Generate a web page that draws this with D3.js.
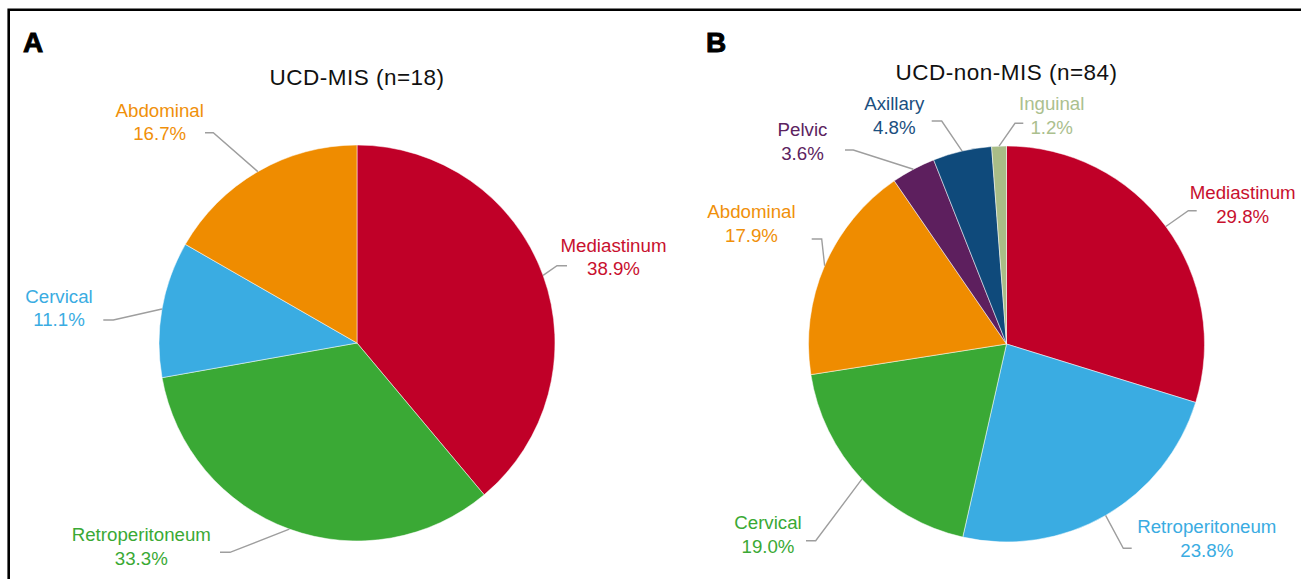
<!DOCTYPE html>
<html>
<head>
<meta charset="utf-8">
<script src="https://cdn.jsdelivr.net/npm/d3@7"></script>
<style>
  html, body { margin: 0; padding: 0; background: #fff; }
  svg { display: block; }
  text { font-family: "Liberation Sans", Arial, Helvetica, sans-serif; }
</style>
</head>
<body>
<svg id="chart" width="1301" height="579"></svg>
<script>
// ---- data ----
const categoriesA = ["Mediastinum", "Retroperitoneum", "Cervical", "Abdominal"];
const valuesA = [38.9, 33.3, 11.1, 16.7];
const titleA = "UCD-MIS (n=18)";

const categoriesB = ["Mediastinum", "Retroperitoneum", "Cervical", "Abdominal", "Pelvic", "Axillary", "Inguinal"];
const valuesB = [29.8, 23.8, 19.0, 17.9, 3.6, 4.8, 1.2];
const titleB = "UCD-non-MIS (n=84)";

// ---- styles ----
const sliceColor = {
  Mediastinum: "#C00028", Retroperitoneum: "#3AACE2", Cervical: "#3AA935",
  Abdominal: "#EF8C00", Pelvic: "#5D1F5E", Axillary: "#0F4A7B", Inguinal: "#A9BD87"
};
const sliceColorA = { Mediastinum: "#C00028", Retroperitoneum: "#3AA935", Cervical: "#3AACE2", Abdominal: "#EF8C00" };
const textColor = {
  Mediastinum: "#C8102E", Abdominal: "#F0900A", Pelvic: "#5C2360", Axillary: "#1B4F80", Inguinal: "#ABC08E"
};

// label layout (offsets from pie centre): text centre x, first baseline y, leader elbow x/y, leader end x
const layoutA = {
  Mediastinum:     { tx: 256.5, ty: -91.3, ex: 200,   ey: -77.3, hx: 210 },
  Retroperitoneum: { tx: -215.7, ty: 198,  ex: -127,  ey: 209.3, hx: -137 },
  Cervical:        { tx: -298,  ty: -40.3, ex: -243.7, ey: -23,  hx: -253.7 },
  Abdominal:       { tx: -197.3, ty: -226.5, ex: -143.7, ey: -210.3, hx: -152 }
};
const layoutB = {
  Mediastinum:     { tx: 236.2, ty: -145,  ex: 181.8, ey: -133.3, hx: 190.2 },
  Retroperitoneum: { tx: 200.3, ty: 189.3, ex: 116.8, ey: 204.3,  hx: 125.2 },
  Cervical:        { tx: -238.5, ty: 185.3, ex: -190.8, ey: 196.7, hx: -200.5 },
  Abdominal:       { tx: -255,  ty: -125.7, ex: -184.8, ey: -105,  hx: -194.8 },
  Pelvic:          { tx: -204,  ty: -208,  ex: -153.2, ey: -194,   hx: -161.5 },
  Axillary:        { tx: -112.2, ty: -234, ex: -64.8,  ey: -223,   hx: -74.8 },
  Inguinal:        { tx: 45.2,  ty: -234,  ex: 8.5,    ey: -220.7, hx: 16.8 }
};

const svg = d3.select("#chart");

// frame
svg.append("path")
  .attr("d", "M8.7,579 V9.7 H1301")
  .attr("fill", "none").attr("stroke", "#000").attr("stroke-width", 2.6);

function drawPie(opts) {
  const { cx, cy, r, cats, vals, colors, layout, title, titleY, letter, letterX } = opts;
  const data = cats.map((c, i) => ({ cat: c, value: vals[i] }));
  const pie = d3.pie().value(d => d.value).sort(null).startAngle(0).endAngle(2 * Math.PI);
  const arcs = pie(data);
  const arc = d3.arc().innerRadius(0).outerRadius(r);
  const edge = d3.arc().innerRadius(r).outerRadius(r);

  svg.append("text").attr("x", letterX).attr("y", 52)
    .attr("font-size", 28).attr("font-weight", "bold").attr("fill", "#000")
    .attr("stroke", "#000").attr("stroke-width", 0.9).text(letter);

  svg.append("text").attr("x", cx).attr("y", titleY)
    .attr("text-anchor", "middle").attr("font-size", 22.5).attr("letter-spacing", 0.5)
    .attr("fill", "#111").text(title);

  const g = svg.append("g").attr("transform", `translate(${cx},${cy})`);
  g.selectAll("path.slice").data(arcs).enter().append("path")
    .attr("class", "slice")
    .attr("d", arc)
    .attr("fill", d => colors[d.data.cat])
    .attr("stroke", "#fff").attr("stroke-width", 0.5);

  // leader lines
  g.selectAll("path.leader").data(arcs).enter().append("path")
    .attr("class", "leader")
    .attr("d", d => {
      const L = layout[d.data.cat];
      const p = edge.centroid(d);
      return `M${p[0]},${p[1]} L${L.ex},${L.ey} L${L.hx},${L.ey}`;
    })
    .attr("fill", "none").attr("stroke", "#9E9E9E").attr("stroke-width", 1.4);

  // labels
  const lab = g.selectAll("text.lab").data(arcs).enter().append("text")
    .attr("class", "lab")
    .attr("text-anchor", "middle")
    .attr("font-size", 18.7)
    .attr("fill", d => textColor[d.data.cat] || colors[d.data.cat]);
  lab.append("tspan")
    .attr("x", d => layout[d.data.cat].tx).attr("y", d => layout[d.data.cat].ty)
    .text(d => d.data.cat);
  lab.append("tspan")
    .attr("x", d => layout[d.data.cat].tx).attr("y", d => layout[d.data.cat].ty + 23.5)
    .text(d => d.data.value.toFixed(1) + "%");
}

drawPie({ cx: 357, cy: 343, r: 198, cats: categoriesA, vals: valuesA, colors: sliceColorA,
  layout: layoutA, title: titleA, titleY: 85, letter: "A", letterX: 23 });
drawPie({ cx: 1006.5, cy: 344, r: 198, cats: categoriesB, vals: valuesB, colors: sliceColor,
  layout: layoutB, title: titleB, titleY: 80, letter: "B", letterX: 706 });
</script>
</body>
</html>
